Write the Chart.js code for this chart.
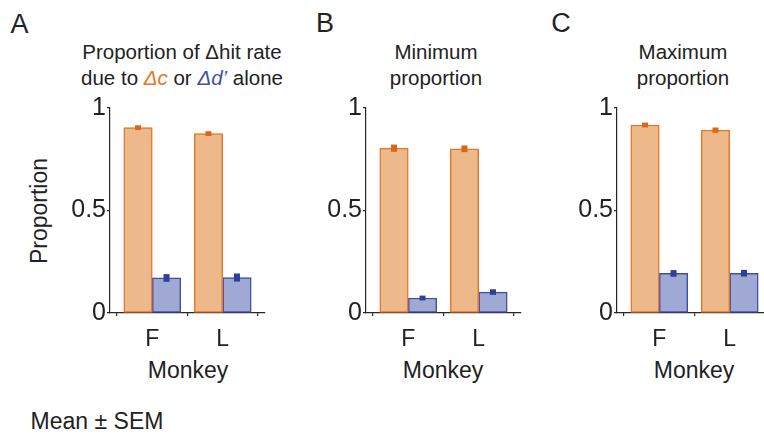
<!DOCTYPE html>
<html>
<head>
<meta charset="utf-8">
<script src="https://cdn.jsdelivr.net/npm/chart.js@4/dist/chart.umd.min.js"></script>
<style>
  html, body { margin: 0; padding: 0; overflow: hidden; background: #fff; }
  body { width: 764px; height: 435px; position: relative; font-family: "Liberation Sans", Arial, sans-serif; color: #222; }
  .txt { position: absolute; white-space: nowrap; line-height: 1; transform: translate(-50%, -50%); }
  .letter { font-size: 27px; }
  .lab { font-size: 23px; }
  .title { position: absolute; white-space: nowrap; font-size: 20.5px; line-height: 26px; text-align: center; transform: translateX(-50%); }
  .dc { color: #E5782A; font-style: italic; }
  .dd { color: #3F50A5; font-style: italic; }
  canvas { position: absolute; }
</style>
</head>
<body>
<div class="txt letter" style="left:19.5px;top:24px">A</div>
<div class="txt letter" style="left:325px;top:23px">B</div>
<div class="txt letter" style="left:561px;top:23px">C</div>

<div class="title" style="left:182px;top:39px">Proportion of &Delta;hit rate<br>due to <span class="dc">&Delta;c</span> or <span class="dd">&Delta;d&rsquo;</span> alone</div>
<div class="title" style="left:436px;top:39px">Minimum<br>proportion</div>
<div class="title" style="left:683px;top:39px">Maximum<br>proportion</div>

<div class="txt lab" style="left:39px;top:211px;transform:translate(-50%,-50%) rotate(-90deg)">Proportion</div>
<div class="txt lab" style="left:188px;top:370px">Monkey</div>
<div class="txt lab" style="left:443px;top:370px">Monkey</div>
<div class="txt lab" style="left:694px;top:370px">Monkey</div>
<div class="txt lab" style="left:97px;top:421px">Mean &plusmn; SEM</div>

<canvas id="panelA" width="221" height="281"></canvas>
<canvas id="panelB" width="221" height="281"></canvas>
<canvas id="panelC" width="221" height="281"></canvas>

<script>
const monkeys = ['F', 'L'];
const yTicks = [0, 0.5, 1];

// A: proportion of delta hit rate due to delta c or delta d' alone
const propDeltaC = [0.904, 0.875];
const propDeltaCSem = [0.002, 0.002];
const propDeltaD = [0.171, 0.173];
const propDeltaDSem = [0.009, 0.010];

// B: minimum proportion
const minDeltaC = [0.804, 0.801];
const minDeltaCSem = [0.008, 0.0065];
const minDeltaD = [0.073, 0.102];
const minDeltaDSem = [0.002, 0.004];

// C: maximum proportion
const maxDeltaC = [0.917, 0.892];
const maxDeltaCSem = [0.002, 0.003];
const maxDeltaD = [0.193, 0.194];
const maxDeltaDSem = [0.0065, 0.0065];

const orangeFill = '#EDB98A', orangeEdge = '#E5782A', orangeErr = '#D9661A';
const blueFill = '#A0A8D4', blueEdge = '#3F50A5', blueErr = '#2E3F9E';
const axisColor = '#262626';

const errorBars = {
    id: 'errorBars',
    afterDatasetsDraw(chart) {
        const ctx = chart.ctx;
        const y = chart.scales.y;
        chart.data.datasets.forEach((ds, i) => {
            const meta = chart.getDatasetMeta(i);
            ctx.save();
            ctx.fillStyle = ds.errColor;
            meta.data.forEach((bar, j) => {
                const v = ds.data[j].y;
                const s = ds.sem[j];
                const top = y.getPixelForValue(v + s) - 2;
                const bot = y.getPixelForValue(v - s) + 2;
                ctx.fillRect(bar.x - 3, top, 6, bot - top);
            });
            ctx.restore();
        });
    }
};

function makePanel(id, axisX, cVals, cSem, dVals, dSem) {
    const canvas = document.getElementById(id);
    canvas.style.left = (axisX - 60) + 'px';
    canvas.style.top = '92px';
    canvas.style.width = '221px';
    canvas.style.height = '281px';
    const family = '"Liberation Sans", Arial, sans-serif';
    new Chart(canvas, {
        type: 'bar',
        data: {
            datasets: [
                {
                    data: cVals.map((v, i) => ({ x: i + 1, y: v })),
                    sem: cSem,
                    errColor: orangeErr,
                    backgroundColor: orangeFill,
                    borderColor: orangeEdge,
                    borderWidth: 1.5,
                    borderSkipped: false
                },
                {
                    data: dVals.map((v, i) => ({ x: i + 1, y: v })),
                    sem: dSem,
                    errColor: blueErr,
                    backgroundColor: blueFill,
                    borderColor: blueEdge,
                    borderWidth: 1.5,
                    borderSkipped: false
                }
            ]
        },
        options: {
            responsive: false,
            animation: false,
            devicePixelRatio: 1,
            barThickness: 28.5,
            layout: { padding: { top: 15, right: 6, left: 0, bottom: 0 } },
            plugins: { legend: { display: false }, tooltip: { enabled: false } },
            scales: {
                x: {
                    type: 'linear',
                    min: 0.4,
                    max: 2.6,
                    offset: false,
                    afterBuildTicks: s => { s.ticks = monkeys.map((m, i) => ({ value: i + 1 })); },
                    afterFit: s => { s.height = 60; },
                    ticks: { callback: v => monkeys[v - 1], font: { family, size: 23 }, color: '#222', padding: 10, maxRotation: 0 },
                    grid: { drawOnChartArea: false, drawTicks: true, tickLength: 3, color: axisColor, lineWidth: 1.2 },
                    border: { color: axisColor, width: 1.2 }
                },
                y: {
                    min: 0,
                    max: 1,
                    afterBuildTicks: s => { s.ticks = yTicks.map(v => ({ value: v })); },
                    afterFit: s => { s.width = 60; },
                    ticks: { callback: v => String(v), font: { family, size: 25 }, color: '#222', padding: 1 },
                    grid: { drawOnChartArea: false, drawTicks: true, tickLength: 3, color: axisColor, lineWidth: 1.2 },
                    border: { color: axisColor, width: 1.2 }
                }
            }
        },
        plugins: [errorBars]
    });
}

makePanel('panelA', 110, propDeltaC, propDeltaCSem, propDeltaD, propDeltaDSem);
makePanel('panelB', 366, minDeltaC, minDeltaCSem, minDeltaD, minDeltaDSem);
makePanel('panelC', 617, maxDeltaC, maxDeltaCSem, maxDeltaD, maxDeltaDSem);
</script>
</body>
</html>
